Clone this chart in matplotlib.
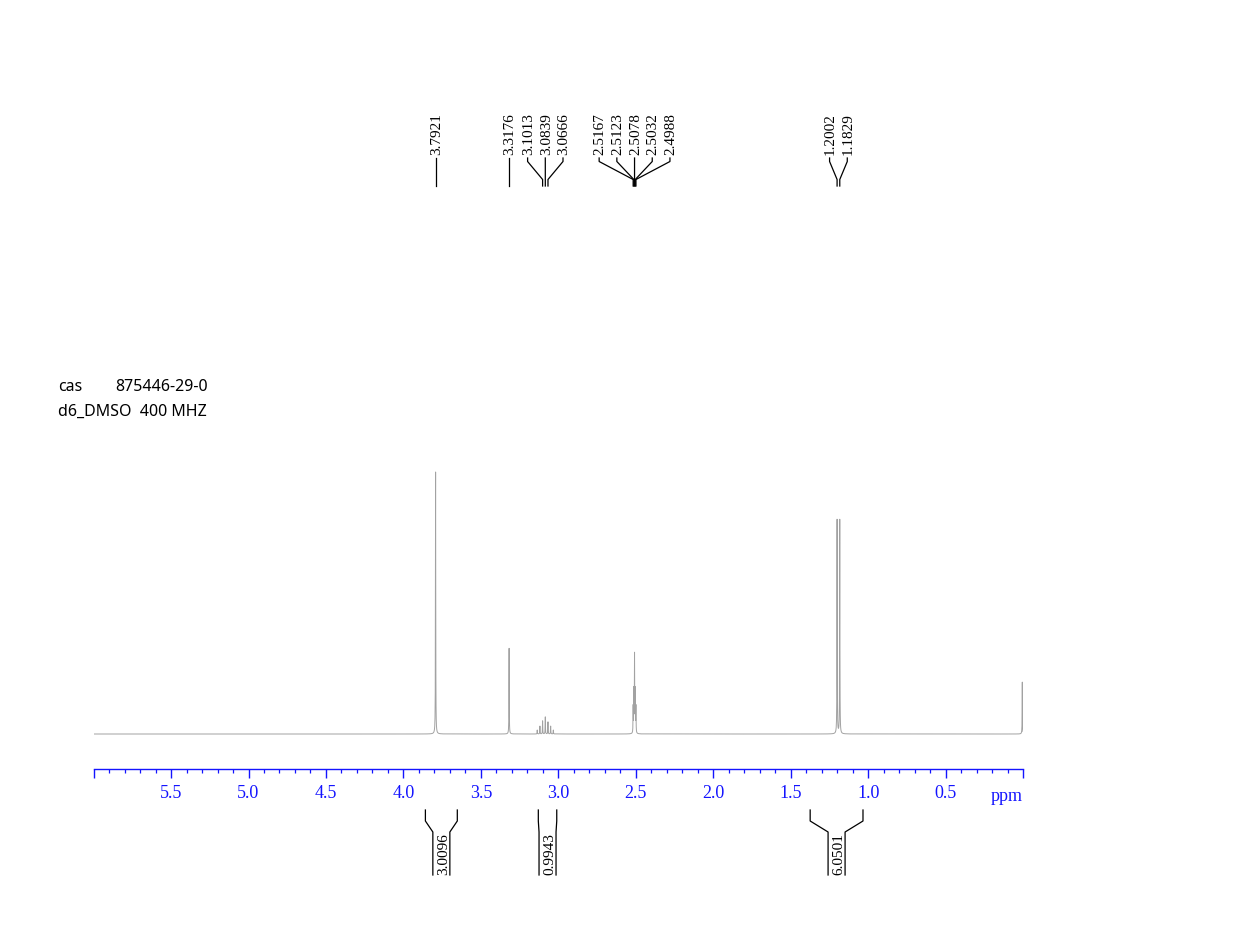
import numpy as np
import matplotlib
matplotlib.use("Agg")
import matplotlib.pyplot as plt

# peak list (ppm, relative height %)
peak_ppm = [3.7921, 3.3176,
            3.1359, 3.1186, 3.1013, 3.0839, 3.0666, 3.0493, 3.0320,
            2.5167, 2.5123, 2.5078, 2.5032, 2.4988,
            1.2002, 1.1829,
            0.0045]
peak_height = [100.0, 32.7,
               1.5, 3.0, 5.0, 6.5, 4.6, 3.0, 1.5,
               10.0, 16.0, 29.5, 16.0, 10.0,
               81.7, 81.7,
               19.8]

# labels above the spectrum: (group of shifts)
label_groups = [[3.7921],
                [3.3176],
                [3.1013, 3.0839, 3.0666],
                [2.5167, 2.5123, 2.5078, 2.5032, 2.4988],
                [1.2002, 1.1829]]

# integrals: (from ppm, to ppm, value)
integ_from = [3.858, 3.129, 1.374]
integ_to = [3.652, 3.010, 1.033]
integ_value = ["3.0096", "0.9943", "6.0501"]

info_lines = [("cas", "875446-29-0"), ("d6_DMSO  400 MHZ", "")]

W, H = 1248, 952
X0, X1 = 94, 1023
PX_PER_PPM = 154.9
ppm_left = (X1 - X0) / PX_PER_PPM

fig = plt.figure(figsize=(W / 100, H / 100), dpi=100)

# spectrum axes, bottom spine is the ppm scale
ax_bottom, ax_top = 769, 440
ax = fig.add_axes([X0 / W, (H - ax_bottom) / H, (X1 - X0) / W, (ax_bottom - ax_top) / H])
scale = 2.62  # px per %
ax.set_xlim(ppm_left, 0.0)
ax.set_ylim(-35 / scale, (ax_bottom - ax_top - 35) / scale)

x = np.concatenate([np.arange(0.0, ppm_left, 0.0002), np.array(peak_ppm)])
x = np.sort(x)
hw = 0.0010
y = np.zeros_like(x)
for p, h in zip(peak_ppm, peak_height):
    y += h * hw ** 2 / ((x - p) ** 2 + hw ** 2)
ax.plot(x, y, color="#a2a2a2", lw=0.7)

blue = "#1414ff"
for s in ["left", "right", "top"]:
    ax.spines[s].set_visible(False)
ax.spines["bottom"].set_color(blue)
ax.spines["bottom"].set_linewidth(1.0)
ax.set_yticks([])
major = [ppm_left] + [5.5, 5.0, 4.5, 4.0, 3.5, 3.0, 2.5, 2.0, 1.5, 1.0, 0.5, 0.0]
major_lab = [""] + ["%.1f" % v for v in major[1:-1]] + [""]
ax.set_xticks(major)
ax.set_xticklabels(major_lab)
minor = [round(v * 0.1, 1) for v in range(1, 60) if v % 5 != 0]
ax.set_xticks(minor, minor=True)
ax.tick_params(axis="x", which="major", direction="out", length=6.5, width=1.0,
               color=blue, labelcolor=blue, labelsize=13, pad=5)
ax.tick_params(axis="x", which="minor", direction="out", length=3, width=0.9, color=blue)
for t in ax.get_xticklabels():
    t.set_fontfamily("Liberation Serif")

# overlay for annotations: x in ppm, y in pixels from top
ov = fig.add_axes([X0 / W, 0, (X1 - X0) / W, 1])
ov.set_xlim(ppm_left, 0.0)
ov.set_ylim(H, 0)
ov.axis("off")

ov.text(0.0, 801, "ppm", ha="right", va="baseline", color=blue,
        fontsize=13, family="Liberation Serif")

spacing = 17.7 / PX_PER_PPM
for grp in label_groups:
    center = np.mean(grp)
    n = len(grp)
    for i, p in enumerate(grp):
        lx = center + (((n - 1) / 2) - i) * spacing
        if n == 1:
            ov.plot([p, p], [158, 186], color="black", lw=0.9)
        else:
            ov.plot([lx, lx, p, p], [158, 161.5, 179.5, 186], color="black", lw=0.9)
        ov.text(lx - 0.006, 155, "%.4f" % p, rotation=90, ha="center", va="bottom",
                fontsize=11, family="Liberation Serif", color="black")

inner = 8.5 / PX_PER_PPM
for a, b, v in zip(integ_from, integ_to, integ_value):
    c = (a + b) / 2
    ia = min(a, c + inner)
    ib = max(b, c - inner)
    ov.plot([a, a, ia, ia], [810, 821, 832, 875], color="black", lw=0.9)
    ov.plot([b, b, ib, ib], [810, 821, 832, 875], color="black", lw=0.9)
    ov.text(c - 0.012, 875, v, rotation=90, ha="center", va="bottom",
            fontsize=11, family="Liberation Serif", color="black")

# sample info text
fig.text(58 / W, 1 - 391 / H, info_lines[0][0], fontsize=11.5, family="Noto Sans")
fig.text(115 / W, 1 - 391 / H, info_lines[0][1], fontsize=11.5, family="Noto Sans")
fig.text(58 / W, 1 - 416 / H, info_lines[1][0], fontsize=11.5, family="Noto Sans")

fig.savefig("out.png", dpi=100)
